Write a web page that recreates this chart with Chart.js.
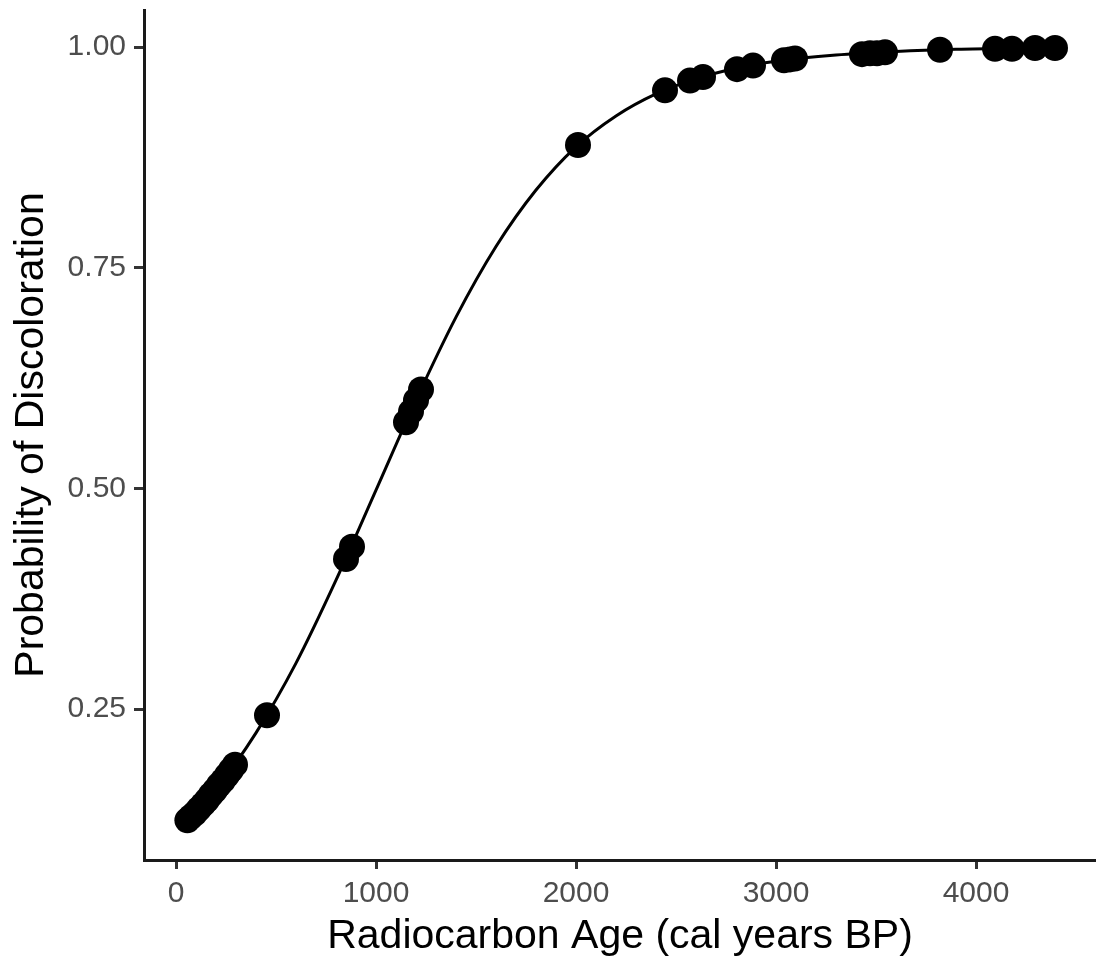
<!DOCTYPE html>
<html>
<head>
<meta charset="utf-8">
<script src="https://cdn.jsdelivr.net/npm/chart.js@4"></script>
<style>
  html, body { margin: 0; padding: 0; background: #fff; }
  #wrap { width: 1096px; height: 966px; }
</style>
</head>
<body>
<div id="wrap"><canvas id="myChart" width="1096" height="966"></canvas></div>
<script>
// sample ages (cal years BP) and fitted probability for each sample
var sampleAges = [57, 75, 95, 115, 135, 155, 175, 195, 215, 235, 255, 275, 295,
    455, 850, 880, 1150, 1175, 1200, 1225, 2010, 2445, 2570, 2635, 2805, 2885,
    3040, 3070, 3095, 3430, 3470, 3505, 3545, 3820, 4095, 4180, 4295, 4395];
var sampleProb = [0.124, 0.128, 0.132, 0.137, 0.142, 0.147, 0.153, 0.158, 0.164, 0.169, 0.175, 0.181, 0.187,
    0.243, 0.420, 0.434, 0.575, 0.587, 0.600, 0.612, 0.889, 0.951, 0.962, 0.966, 0.975, 0.979,
    0.985, 0.986, 0.987, 0.992, 0.993, 0.993, 0.994, 0.997, 0.998, 0.998, 0.999, 0.999];

// fitted curve
var curveAges = [57, 200, 400, 600, 800, 1000, 1200, 1400, 1600, 1800, 2000, 2200,
    2400, 2600, 2800, 3000, 3300, 3600, 3900, 4200, 4400];
var curveProb = [0.124, 0.159, 0.223, 0.302, 0.396, 0.498, 0.600, 0.694, 0.774, 0.838, 0.887, 0.922,
    0.947, 0.964, 0.976, 0.984, 0.991, 0.995, 0.9975, 0.9987, 0.9991];

var xTicks = [0, 1000, 2000, 3000, 4000];
var yTicks = [0.25, 0.50, 0.75, 1.00];

var FONT = '"Liberation Sans", Arial, sans-serif';

function pairs(xs, ys) {
    return xs.map(function (x, i) { return { x: x, y: ys[i] }; });
}

var ctx = document.getElementById('myChart').getContext('2d');
var chart = new Chart(ctx, {
    type: 'scatter',
    data: {
        datasets: [{
            label: 'samples',
            data: pairs(sampleAges, sampleProb),
            backgroundColor: '#000',
            borderWidth: 0,
            pointRadius: 13,
            pointHoverRadius: 13,
            order: 1
        },
        {
            type: 'line',
            label: 'fit',
            data: pairs(curveAges, curveProb),
            borderColor: '#000',
            borderWidth: 3,
            pointRadius: 0,
            fill: false,
            cubicInterpolationMode: 'monotone',
            order: 2
        }]
    },
    options: {
        responsive: false,
        animation: false,
        layout: { autoPadding: false, padding: { top: 10, right: 0, left: 0, bottom: 0 } },
        plugins: {
            legend: { display: false },
            tooltip: { enabled: false }
        },
        scales: {
            x: {
                type: 'linear',
                min: -160,
                max: 4600,
                afterBuildTicks: function (scale) {
                    scale.ticks = xTicks.map(function (v) { return { value: v }; });
                },
                afterFit: function (scale) {
                    scale.height = 106;
                    scale.paddingLeft = 0;
                    scale.paddingRight = 0;
                },
                border: { display: true, color: '#1a1a1a', width: 3 },
                grid: { drawOnChartArea: false, drawTicks: true, tickLength: 9, tickColor: '#333', tickWidth: 3 },
                ticks: {
                    color: '#4d4d4d',
                    padding: 7,
                    maxRotation: 0,
                    font: { family: FONT, size: 30 },
                    callback: function (v) { return String(v); }
                },
                title: {
                    display: true,
                    text: 'Radiocarbon Age (cal years BP)',
                    color: '#000',
                    padding: { top: 0, bottom: 5 },
                    font: { family: FONT, size: 41 }
                }
            },
            y: {
                type: 'linear',
                min: 0.079,
                max: 1.042,
                afterBuildTicks: function (scale) {
                    scale.ticks = yTicks.map(function (v) { return { value: v }; });
                },
                afterFit: function (scale) {
                    scale.width = 144;
                    scale.paddingTop = 0;
                    scale.paddingBottom = 0;
                },
                border: { display: true, color: '#1a1a1a', width: 3 },
                grid: { drawOnChartArea: false, drawTicks: true, tickLength: 10, tickColor: '#333', tickWidth: 3 },
                ticks: {
                    color: '#4d4d4d',
                    padding: 8,
                    font: { family: FONT, size: 30 },
                    callback: function (v) { return Number(v).toFixed(2); }
                },
                title: {
                    display: true,
                    text: 'Probability of Discoloration',
                    color: '#000',
                    padding: { top: 7, bottom: 0 },
                    font: { family: FONT, size: 41 }
                }
            }
        }
    }
});
</script>
</body>
</html>
